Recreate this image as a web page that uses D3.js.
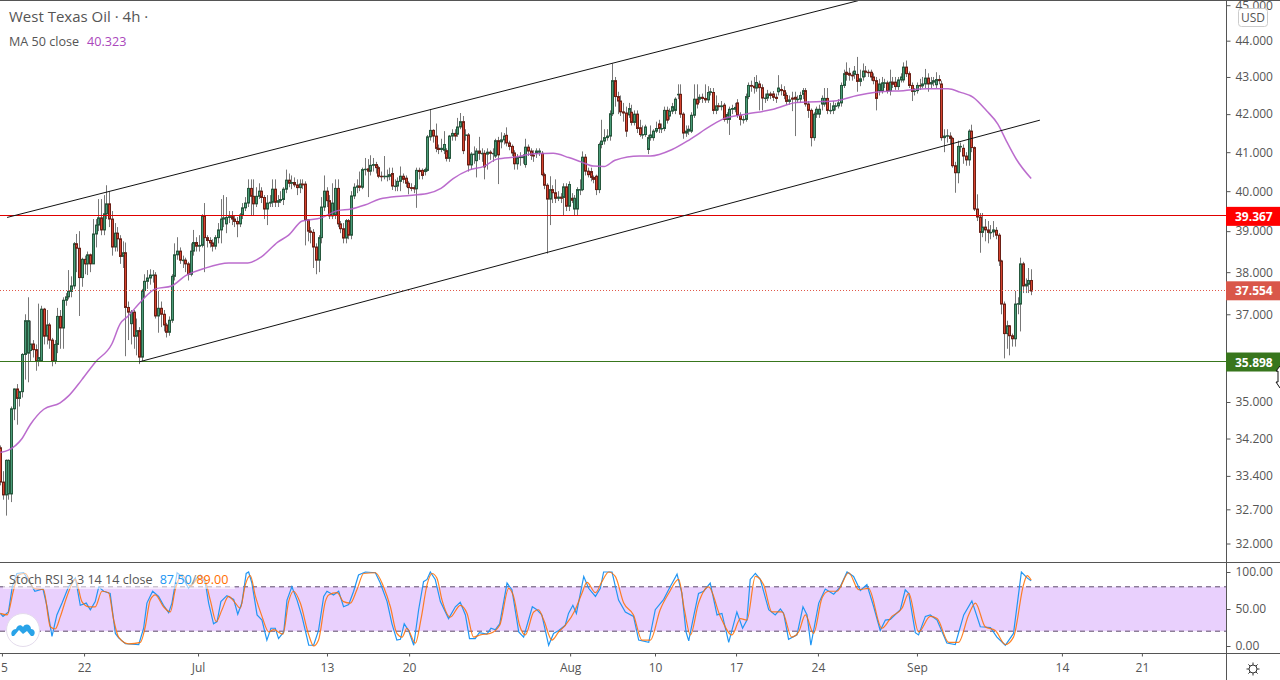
<!DOCTYPE html>
<html>
<head>
<meta charset="utf-8">
<title>West Texas Oil 4h</title>
<script src="https://cdn.jsdelivr.net/npm/d3@7"></script>
<style>
  html, body { margin: 0; background: #fff; overflow: hidden; }
  svg { display: block; font-family: "Open Sans", sans-serif; }
</style>
</head>
<body>
<svg id="chart" width="1280" height="680"></svg>
<script>
// 4h candles, ten bars a line
const opens = [
  34.0,33.27,33.0,33.02,33.02,34.85,35.29,35.08,35.23,36.07,
  36.1,36.16,36.31,36.18,35.93,35.93,37.12,36.49,36.75,36.40,
  35.93,36.30,36.95,36.68,37.33,37.41,37.54,37.67,38.69,38.58,
  37.87,38.31,38.20,38.42,38.2,38.93,39.15,39.33,39.03,39.43,
  39.68,39.30,38.61,38.95,38.81,38.38,38.47,37.16,36.78,37.05,
  36.49,36.62,36.01,37.56,37.78,37.86,37.93,37.93,36.96,37.14,
  37.0,36.75,36.58,36.86,37.9,38.42,38.51,38.29,38.29,38.20,
  37.95,38.51,38.72,38.63,38.65,39.37,38.84,38.77,38.71,38.63,
  38.84,39.03,39.3,39.18,39.34,39.36,39.30,39.24,39.18,39.40,
  39.58,39.70,40.07,39.87,39.68,39.87,40.0,39.84,39.55,39.70,
  39.72,40.05,39.72,39.76,39.79,40.05,40.28,40.2,40.22,40.16,
  40.09,40.18,40.18,39.28,39.0,38.97,38.61,38.29,38.84,39.6,
  40.0,39.76,39.38,39.39,40.07,39.18,39.06,38.83,39.26,38.9,
  39.88,40.1,40.13,40.1,40.55,40.57,40.51,40.66,40.68,40.6,
  40.38,40.37,40.38,40.38,40.45,40.13,40.13,40.25,40.38,40.33,
  40.2,40.09,40.09,40.06,40.53,40.53,40.5,40.53,41.4,41.57,
  41.42,41.1,41.07,41.05,41.04,40.84,41.42,41.49,41.47,41.66,
  41.8,41.45,41.45,40.67,40.95,40.78,41.03,40.97,40.97,40.95,
  41.0,40.97,40.9,41.3,41.27,41.32,41.44,41.24,41.15,40.98,
  40.7,40.86,40.86,40.68,41.13,41.03,40.92,40.97,41.0,40.97,
  40.42,40.15,39.8,40.04,39.96,39.82,39.85,39.84,40.11,39.62,
  39.82,39.55,39.55,40.04,40.04,40.87,40.51,40.5,40.35,40.38,
  40.04,41.2,41.29,41.38,41.42,42.01,42.9,42.47,42.35,42.06,
  42.03,41.98,42.05,41.78,42.0,41.64,41.46,41.46,41.07,41.38,
  41.38,41.55,41.74,41.62,41.62,42.1,41.95,42.08,42.1,42.53,
  42.53,42.0,41.5,41.55,41.55,41.97,42.4,42.4,42.45,42.42,
  42.38,42.58,42.58,42.1,42.22,42.2,42.24,41.86,41.86,42.13,
  42.13,42.3,41.97,41.86,41.86,42.47,42.77,42.75,42.7,42.81,
  42.71,42.43,42.43,42.54,42.54,42.45,42.6,42.66,42.63,42.5,
  42.34,42.43,42.45,42.4,42.4,42.53,42.63,42.27,42.1,41.38,
  42.0,42.0,42.27,42.27,42.42,42.1,42.1,42.22,42.22,42.3,
  42.77,43.13,43.1,43.05,43.07,43.07,42.88,43.0,43.16,43.13,
  43.13,43.0,42.9,42.63,42.63,42.84,42.84,42.63,42.86,42.86,
  42.74,42.92,42.92,43.27,43.09,42.77,42.61,42.63,42.77,42.76,
  42.81,42.97,42.81,42.86,42.79,42.93,42.81,41.38,41.42,41.42,
  41.36,40.65,40.47,41.15,41.1,40.9,40.8,41.55,41.12,39.55,
  39.35,38.97,39.1,39.03,38.97,38.98,39.02,38.9,38.27,37.24,
  36.55,36.73,36.5,36.43,37.24,37.24,38.2,37.67,37.71,37.8
];
const highs = [
  34.05,33.5,33.75,33.75,34.9,35.3,35.4,35.25,36.1,37.0,
  37.4,36.85,36.4,36.3,37.25,37.2,37.15,37.1,36.8,36.45,
  36.4,37.15,37.1,37.4,37.5,38.05,37.9,38.73,38.93,39.0,
  38.35,38.4,38.5,38.45,39.3,39.3,39.8,39.8,39.9,40.15,
  40.0,39.5,39.2,39.1,38.9,38.75,38.72,37.3,37.1,37.1,
  36.9,36.7,37.6,37.95,38.05,38.07,38.05,38.0,37.55,37.3,
  37.1,36.8,36.95,37.95,38.7,38.85,38.6,38.4,38.35,38.25,
  38.7,39.03,38.85,38.9,39.42,39.7,38.9,38.85,38.8,38.9,
  39.2,39.8,39.9,39.85,39.5,39.5,39.4,39.35,39.45,39.7,
  39.85,40.3,40.3,40.3,40.1,40.2,40.1,39.9,39.9,39.9,
  40.3,40.3,39.9,40.0,40.1,40.55,40.45,40.4,40.35,40.3,
  40.3,40.3,40.25,39.3,39.1,39.05,38.7,38.9,39.85,40.4,
  40.1,39.9,40.2,40.3,40.3,39.25,39.2,39.3,39.3,40.0,
  40.2,40.3,40.5,40.6,40.85,40.82,40.92,40.85,40.75,40.65,
  40.5,40.9,40.55,40.6,40.6,40.3,40.35,40.63,40.45,40.4,
  40.25,40.2,40.15,40.6,40.6,40.58,40.6,41.45,42.13,41.6,
  41.75,41.2,41.35,41.55,41.1,41.45,41.6,41.6,41.9,42.03,
  41.95,41.6,41.5,41.0,41.15,41.1,41.4,41.1,41.05,41.1,
  41.05,41.1,41.35,41.4,41.52,41.5,41.65,41.3,41.2,41.05,
  40.95,41.0,40.95,41.35,41.2,41.1,41.05,41.1,41.1,41.03,
  40.47,40.2,40.38,40.15,40.3,40.0,39.95,40.2,40.2,40.25,
  39.95,39.9,40.1,40.3,41.02,40.95,40.6,40.6,40.4,40.42,
  41.25,41.85,41.6,41.6,42.1,43.37,43.0,42.6,42.5,42.3,
  42.2,42.3,42.25,42.1,42.1,41.85,41.7,41.72,41.45,41.7,
  41.6,41.8,41.85,41.75,42.2,42.2,42.15,42.3,42.45,42.8,
  42.8,42.05,41.7,41.7,42.05,42.8,42.8,42.53,42.55,42.8,
  42.75,42.7,42.7,42.5,42.3,42.35,42.3,42.05,42.2,42.25,
  42.3,42.4,42.05,41.95,42.55,42.85,42.9,43.0,43.05,42.9,
  42.8,42.55,42.65,42.6,42.62,42.55,43.05,42.8,42.75,42.58,
  42.5,42.6,42.6,42.5,42.6,42.7,42.7,42.35,42.15,42.05,
  42.2,42.25,42.5,42.7,42.7,42.3,42.35,42.3,42.4,42.85,
  43.2,43.4,43.25,43.15,43.3,43.55,43.2,43.37,43.3,43.2,
  43.2,43.1,43.0,42.95,43.0,42.95,42.9,43.2,43.0,43.0,
  43.0,43.1,43.4,43.45,43.15,42.85,42.7,42.85,42.95,43.0,
  43.22,43.1,43.0,43.0,43.13,43.05,42.9,41.6,41.6,41.52,
  41.4,40.75,41.3,41.25,41.2,41.0,41.6,41.72,41.15,39.92,
  39.45,39.45,39.3,39.25,39.15,39.25,39.1,38.95,38.3,37.3,
  36.85,36.75,36.55,37.55,37.4,38.35,38.25,37.85,38.1,38.07
];
const lows = [
  33.2,32.9,32.57,32.9,32.85,34.6,34.5,34.9,35.1,35.5,
  35.44,35.9,36.0,35.7,35.8,35.9,36.3,36.3,36.2,35.8,
  35.85,36.1,36.2,36.2,37.2,37.35,37.4,37.6,38.0,36.96,
  37.65,37.95,37.93,38.0,38.2,38.6,39.0,38.9,38.9,39.3,
  39.1,38.4,38.5,38.5,38.2,38.1,36.03,36.4,36.3,36.2,
  36.05,35.85,35.9,37.4,37.6,37.7,37.75,36.9,36.57,36.7,
  36.6,36.46,36.5,36.8,37.8,38.3,38.2,38.1,38.0,37.8,
  37.9,38.4,38.5,38.5,38.6,38.0,38.6,38.6,38.5,38.55,
  38.7,38.7,39.1,38.95,39.2,39.15,39.1,38.85,39.1,39.3,
  39.5,39.6,39.4,39.4,39.6,39.8,39.7,39.3,39.15,39.6,
  39.6,39.6,39.6,39.7,39.65,39.95,40.1,40.05,40.1,39.9,
  39.95,40.05,38.65,38.75,38.7,38.1,37.95,38.0,38.7,39.5,
  39.6,39.3,39.3,39.3,39.1,38.95,38.7,38.7,38.8,38.8,
  39.8,39.95,40.0,40.05,40.4,39.85,40.4,40.5,40.45,40.33,
  40.25,40.3,40.25,40.28,40.03,40.0,40.0,40.0,40.2,40.1,
  39.92,40.0,39.95,39.58,40.3,40.3,40.4,40.5,41.3,41.25,
  41.0,40.95,41.0,40.95,40.76,40.75,41.3,41.3,41.4,41.6,
  40.95,41.3,40.5,40.55,40.7,40.35,40.8,40.75,40.3,40.55,
  40.8,40.75,40.85,40.18,41.1,41.2,41.15,41.05,40.9,40.55,
  40.55,40.65,40.7,40.6,40.9,40.8,40.75,40.85,40.9,40.38,
  40.05,38.45,39.15,39.7,39.7,39.75,39.7,39.38,39.5,39.5,
  39.7,39.38,39.38,39.9,40.0,40.4,40.35,40.25,40.2,39.9,
  39.95,41.1,41.2,41.3,41.3,41.95,42.2,42.0,41.95,41.8,
  41.4,41.9,41.7,41.7,41.5,41.4,41.35,41.4,40.95,41.3,
  41.3,41.5,41.5,41.5,41.55,41.75,41.85,42.0,42.0,42.4,
  41.9,41.35,41.4,41.45,41.5,41.9,42.15,42.3,42.3,42.3,
  42.3,42.5,42.0,42.0,42.1,42.1,41.8,41.75,41.45,42.0,
  42.05,41.9,41.7,41.75,41.8,42.4,42.6,42.55,42.6,42.1,
  42.1,42.3,42.35,42.4,42.35,42.3,42.5,42.5,42.4,42.25,
  42.25,42.08,41.42,42.3,42.3,42.4,42.2,41.9,41.15,41.3,
  41.9,41.9,42.1,42.2,42.0,42.0,42.0,42.1,42.15,42.2,
  42.7,42.9,42.9,42.9,42.95,42.6,42.75,42.9,43.0,43.0,
  42.9,42.8,42.1,42.5,42.55,42.7,42.55,42.5,42.7,42.65,
  42.65,42.85,42.85,43.0,42.7,42.35,42.5,42.55,42.65,42.7,
  42.7,42.6,42.7,42.75,42.7,42.8,41.3,41.0,41.25,41.2,
  40.6,39.96,40.2,41.0,40.7,40.65,40.65,41.0,39.5,39.25,
  38.47,38.85,38.75,38.7,38.8,38.85,38.8,38.15,37.0,35.98,
  36.2,36.05,36.25,36.25,37.0,36.6,37.5,37.5,37.5,37.45
];
const closes = [
  33.27,33.0,33.73,33.73,34.85,35.29,35.08,35.23,36.07,36.85,
  36.85,36.31,36.18,35.93,36.0,37.12,36.49,36.75,36.40,35.93,
  36.30,36.95,36.68,37.33,37.41,37.54,37.67,38.69,38.58,37.87,
  38.31,38.20,38.42,38.20,38.93,39.15,39.33,39.03,39.43,39.68,
  39.30,38.61,38.95,38.81,38.38,38.47,37.16,37.05,37.05,36.49,
  36.62,36.01,37.56,37.78,37.86,37.93,37.93,36.96,37.14,37.0,
  36.75,36.58,36.86,37.9,38.42,38.51,38.29,38.29,38.20,37.95,
  38.51,38.72,38.63,38.65,39.37,38.84,38.77,38.71,38.63,38.84,
  39.03,39.30,39.33,39.34,39.36,39.30,39.24,39.18,39.40,39.58,
  39.70,40.07,39.87,39.68,39.87,40.0,39.84,39.55,39.70,39.72,
  40.05,39.72,39.76,39.79,40.05,40.28,40.2,40.22,40.16,40.09,
  40.18,40.16,39.28,39.0,38.97,38.61,38.29,38.84,39.6,40.0,
  39.76,39.38,39.7,40.07,39.18,39.06,38.83,39.26,38.9,39.88,
  40.1,40.13,40.1,40.55,40.56,40.51,40.66,40.68,40.6,40.38,
  40.37,40.38,40.38,40.42,40.13,40.13,40.25,40.38,40.3,40.2,
  40.09,40.07,40.06,40.53,40.5,40.4,40.55,41.4,41.57,41.42,
  41.1,41.07,41.1,41.2,40.84,41.42,41.49,41.42,41.66,41.8,
  41.04,41.45,40.67,40.95,40.95,41.03,40.97,40.97,40.62,41.0,
  40.97,40.97,41.3,40.93,41.32,41.42,41.24,41.15,40.98,40.7,
  40.86,40.88,40.88,41.13,41.03,40.92,40.9,41.03,41.03,40.42,
  40.15,39.8,40.04,39.96,39.82,39.85,39.82,40.11,39.62,40.17,
  39.77,39.82,40.04,40.04,40.87,40.51,40.42,40.35,40.3,40.04,
  41.2,41.29,41.38,41.42,42.01,42.9,42.47,42.35,42.06,42.03,
  41.55,42.15,41.78,42.0,41.62,41.46,41.46,41.66,41.38,41.45,
  41.55,41.62,41.62,41.62,42.1,41.84,42.08,42.2,42.4,42.53,
  42.0,41.5,41.55,41.6,41.97,42.4,42.27,42.45,42.42,42.38,
  42.58,42.6,42.1,42.22,42.2,42.22,41.86,41.99,42.13,42.15,
  42.18,41.97,41.86,41.86,42.47,42.77,42.75,42.71,42.85,42.71,
  42.43,42.43,42.54,42.5,42.45,42.42,42.7,42.63,42.5,42.34,
  42.38,42.4,42.4,42.4,42.5,42.63,42.27,42.1,41.38,42.0,
  42.13,42.13,42.42,42.42,42.1,42.1,42.22,42.22,42.3,42.77,
  43.09,43.07,43.05,43.03,43.16,42.88,42.95,43.16,43.13,43.12,
  43.0,42.9,42.42,42.81,42.84,42.84,42.63,42.86,42.8,42.74,
  42.92,43.0,43.27,43.09,42.77,42.61,42.62,42.77,42.76,42.81,
  42.97,42.81,42.85,42.9,42.93,42.9,41.38,41.42,41.43,41.36,
  40.65,40.47,41.15,41.15,40.9,40.8,41.55,41.12,39.55,39.35,
  38.97,39.1,39.03,38.97,38.97,39.03,38.9,38.27,37.24,36.55,
  36.73,36.5,36.43,37.24,37.25,38.2,37.67,37.71,37.8,37.55
];

// MA 50 readings: bar number and price
const maBars = [0,3,8,11,16,22,25,30,35,41,44,47,52,57,63,68,75,84,91,96,102,106,111,118,124,129,134,139.5,148,157,162,166.5,172,178,182.5,190,196,203.3,209,213.5,218.1,222,226,235,239,247,253.5,261,266,273.5,284.2,292.8,300,307.5,315,322.5,332,340.5,348.5,352.8,357.7,362.6,366.8,369.9,373.6,379];
const maValues = [33.9,33.95,34.2,34.5,34.84,34.98,35.13,35.5,35.9,36.31,36.77,36.96,37.32,37.6,37.67,37.91,38.09,38.22,38.22,38.37,38.73,38.9,39.25,39.33,39.51,39.55,39.65,39.8,39.88,39.94,40.07,40.32,40.53,40.64,40.82,40.88,40.96,40.97,40.86,40.75,40.64,40.63,40.79,40.9,40.9,41.07,41.33,41.68,41.88,41.99,42.13,42.31,42.33,42.36,42.5,42.59,42.63,42.68,42.68,42.59,42.45,42.09,41.73,41.29,40.81,40.32];

// Stoch RSI readings: bar number and value
const kBars = [0,1,3,4.4,6.1,8.6,11,12.7,15.7,17.2,19,20.8,22.7,25.1,27.6,29.4,31.6,33.1,34.9,36.2,38,40.4,42.3,43.5,46,50.9,52.7,53.9,56,58.2,60,61.9,63.1,65,66.8,69.2,71.7,73.5,75.4,76.6,78.4,79.7,81.1,83.3,85.8,87.3,88.8,90.4,91.3,92.5,94.4,96.2,98,99.5,101.1,102.3,104.2,105.4,107.2,109.1,110.9,113.4,115.2,117,118.9,120.1,122.5,124.4,126.2,128.1,129.9,131.7,134.2,137.9,139.7,142.2,144,145.8,147.1,148.5,150.1,152,153.8,155.6,156.9,158.1,159.9,161.8,164.8,167.3,169.1,171,172.5,174.6,176.1,178.9,180.4,182,183.6,186.3,188.1,190.6,192.4,195.6,197.3,199.1,201.6,203.4,205.3,207.7,208.9,210.5,211.8,214.5,216.3,218.8,220.6,221.8,224.9,227.3,229.8,232.8,234.7,238.4,240.8,243.9,245.7,248.8,250.6,252.1,253.1,254.9,256.7,258.6,261,263.5,265.3,267.8,270.8,272.9,274.5,275.7,277.6,279.4,282.5,284.9,286.8,288,289.8,292.9,295.1,296.6,298,300.9,303.3,306.4,308.8,311.3,313.7,316.2,318.6,321.1,323.5,325.4,327.2,330.9,332.7,334,336.4,337.6,340.1,341.9,344.4,348,351.1,354.2,357.2,360.3,364,366.4,369.5,372.5,375.4,377.5,379];
const kValues = [44,40,46,80,98,99,85,74,77,53,13,42,58,80,92,55,58,49,60,80,74,71,17,11,3,2,24,58,74,67,55,45,58,99,94,78,90,96,85,58,30,33,60,68,63,43,58,98,100,85,42,35,8,24,24,10,19,62,80,62,40,1,1,21,67,74,69,74,53,56,74,96,100,99,85,60,30,8,9,30,21,1,49,87,90,100,90,60,37,53,59,42,10,10,18,16,24,22,30,85,76,19,12,53,49,42,1,17,21,28,44,55,44,94,78,67,78,100,100,62,46,40,8,5,49,63,76,97,71,19,7,40,71,74,85,42,44,5,46,24,35,90,98,90,49,42,50,44,9,15,53,42,1,58,77,70,80,100,94,75,83,53,21,35,36,49,76,71,18,15,40,42,35,4,2,42,61,26,25,12,1,17,100,92,88];
const dBars = [0,2.5,4.9,6.7,9.2,12.3,15.9,18.4,20.2,22.1,24.5,27.6,30,32.5,34.9,37.4,39.8,41.7,43.5,47.2,51.5,53.3,55.1,57,60,62.5,64.3,66.8,69.9,72.3,74.8,77.2,79.4,81.5,83.9,86.4,88.2,90.1,91.9,93.8,96.2,98.7,100.5,103.9,106,107.8,110.3,113.4,115.2,117,119.5,120.7,123.8,126.2,128.7,131.1,133.6,137.9,140.9,143.4,145.8,147.7,149.5,152.6,154.7,156.9,158.7,160.5,162.4,165.4,169.1,171.6,174,176.5,180.1,183.6,186.9,188.7,190.9,193,196.1,197.9,199.8,202.8,205.3,207.7,211.4,213.8,215.7,218.8,221.2,223.7,226.1,229.2,232.8,235.9,239,242.6,245.7,249.4,251.5,253.7,256.7,260.4,264.7,269,272.1,274.5,277.6,280.6,283.7,287.4,291,293.5,296,299,302.1,304.5,307.6,311.9,315.6,319.2,324.1,327.8,331.5,334,337.6,341.9,344.4,348.7,352.3,356,358.5,362.1,365.8,369.5,372.5,376.2,377.5,379];
const dValues = [44,42,76,96,98,78,76,26,23,40,67,90,60,53,53,74,72,35,12,3,5,26,62,69,53,46,76,96,81,90,92,62,33,49,67,58,51,83,95,67,40,19,22,16,60,74,58,15,0,8,60,69,72,60,58,76,98,99,80,53,17,12,24,4,37,83,98,92,62,39,55,44,12,15,17,28,78,67,28,15,46,49,35,8,19,28,49,71,86,72,87,100,94,58,42,8,8,49,71,90,49,15,58,80,40,15,37,35,94,83,46,46,12,19,42,17,65,74,74,99,76,78,24,40,51,71,19,40,37,5,5,42,58,26,21,2,12,83,95,89];

// axis labels
const priceTicks = [45,44,43,42,41,40,39,38,37,35,34.2,33.4,32.7,32];
const stochTicks = [100,50,0];
const timeTickBars = [0.6,30.8,72.7,120.1,150.3,209.5,240.7,270.5,300.6,337,390.3,419.7];
const timeTickLabels = ["5","22","Jul","13","20","Aug","10","17","24","Sep","14","21"];

// drawn levels and channel lines
const levels = [
  { price: 39.367, color: "#e00000", box: "#ff0000", label: "39.367", dash: null },
  { price: 37.554, color: "#e0584a", box: "#d9574a", label: "37.554", dash: "1,2" },
  { price: 35.898, color: "#38761d", box: "#38761d", label: "35.898", dash: null }
];
const upperChannel = [[2.5, 39.34], [315.4, 45.13]];
const lowerChannel = [[51, 35.9], [382.2, 41.84]];

const chartWidth = 1226;
const paneBottom = 562;
const timeAxisY = 653;
const textColor = "#555";
const axisColor = "#555";

const svg = d3.select("#chart");

const x = d3.scaleLinear().domain([0, 380]).range([0.3, 1033.9]);
const y = d3.scaleLog().domain([45, 32]).range([5.2, 543.5]);
const yStoch = d3.scaleLinear().domain([100, 0]).range([572, 646]);

const defs = svg.append("defs");
defs.append("clipPath").attr("id", "clipMain").append("rect")
  .attr("width", chartWidth).attr("height", paneBottom);
defs.append("clipPath").attr("id", "clipStoch").append("rect")
  .attr("y", paneBottom).attr("width", chartWidth).attr("height", timeAxisY - paneBottom);

const main = svg.append("g").attr("clip-path", "url(#clipMain)");

const bars = closes.map((c, i) => ({ i, o: opens[i], h: highs[i], l: lows[i], c }));
const px = (d) => Math.round(x(d.i)) + 0.5;

main.selectAll(".wick").data(bars).enter().append("line")
  .attr("class", "wick")
  .attr("x1", px).attr("x2", px)
  .attr("y1", (d) => y(d.h)).attr("y2", (d) => y(d.l))
  .attr("stroke", "#777").attr("stroke-width", 1);

main.selectAll(".body").data(bars).enter().append("rect")
  .attr("class", "body")
  .attr("x", (d) => px(d) - 1)
  .attr("width", 2)
  .attr("y", (d) => y(Math.max(d.o, d.c)))
  .attr("height", (d) => Math.max(0.5, Math.abs(y(d.o) - y(d.c))))
  .attr("fill", (d) => (d.c >= d.o ? "#4a9c78" : "#d6432f"))
  .attr("stroke", (d) => (d.c >= d.o ? "#26573d" : "#6b2016"))
  .attr("stroke-width", 1);

// moving average
const maLine = d3.line().x((d, i) => x(maBars[i])).y((d) => y(d)).curve(d3.curveMonotoneX);
main.append("path").attr("d", maLine(maValues))
  .attr("fill", "none").attr("stroke", "#b45cc8").attr("stroke-width", 1.5).attr("stroke-opacity", 0.9);

// horizontal levels and channel
levels.forEach((l) => {
  main.append("line")
    .attr("x1", 0).attr("x2", chartWidth)
    .attr("y1", Math.round(y(l.price)) - 0.5).attr("y2", Math.round(y(l.price)) - 0.5)
    .attr("stroke", l.color).attr("stroke-width", 1)
    .attr("stroke-dasharray", l.dash);
});
[upperChannel, lowerChannel].forEach((c) => {
  main.append("line")
    .attr("x1", x(c[0][0])).attr("y1", y(c[0][1]))
    .attr("x2", x(c[1][0])).attr("y2", y(c[1][1]))
    .attr("stroke", "#111").attr("stroke-width", 1);
});

// legend
svg.append("text").attr("x", 9).attr("y", 22).attr("font-size", 15).attr("fill", textColor)
  .text("West Texas Oil · 4h ·");
const maLegend = svg.append("text").attr("x", 9).attr("y", 46).attr("font-size", 12.6).attr("fill", textColor);
maLegend.append("tspan").text("MA 50 close");
maLegend.append("tspan").attr("dx", 8).attr("fill", "#ab47bc").text("40.323");

// stoch pane
const stoch = svg.append("g").attr("clip-path", "url(#clipStoch)");
stoch.append("rect")
  .attr("x", 0).attr("width", chartWidth)
  .attr("y", yStoch(80)).attr("height", yStoch(20) - yStoch(80))
  .attr("fill", "#e9d0fd");
[80, 20].forEach((v) => {
  stoch.append("line")
    .attr("x1", 0).attr("x2", chartWidth)
    .attr("y1", yStoch(v)).attr("y2", yStoch(v))
    .attr("stroke", "#5d4a6b").attr("stroke-width", 1).attr("stroke-dasharray", "5,4");
});
const kLine = d3.line().x((d, i) => x(kBars[i])).y((d) => yStoch(d));
const dLine = d3.line().x((d, i) => x(dBars[i])).y((d) => yStoch(d)).curve(d3.curveMonotoneX);
stoch.append("path").attr("d", kLine(kValues)).attr("fill", "none").attr("stroke", "#2196f3").attr("stroke-width", 1.2);
stoch.append("path").attr("d", dLine(dValues)).attr("fill", "none").attr("stroke", "#ff6d00").attr("stroke-width", 1.2).attr("stroke-opacity", 0.85);

svg.append("rect").attr("x", 3).attr("y", 572).attr("width", 232).attr("height", 17)
  .attr("fill", "#fff").attr("fill-opacity", 0.55);
const stochLegend = svg.append("text").attr("x", 9).attr("y", 584).attr("font-size", 12.6).attr("fill", textColor);
stochLegend.append("tspan").text("Stoch RSI 3 3 14 14 close");
stochLegend.append("tspan").attr("dx", 7).attr("fill", "#2196f3").text("87.50");
stochLegend.append("tspan").attr("fill", "#888").text("/");
stochLegend.append("tspan").attr("fill", "#ff6d00").text("89.00");

// logo in the lower left corner
const logo = svg.append("g").attr("transform", "translate(23,630)");
logo.append("circle").attr("r", 16.5).attr("fill", "#fff").attr("stroke", "#e4dcec");
logo.append("path")
  .attr("d", "M-11,6 C-13,2 -10,-1 -7,-1 C-6,-5 -2,-6 0,-3 C2,-7 8,-6 8,-1 C12,-1 13,4 10,6 L8,6 L4,1 L0,4 L-4,0 L-9,6 Z")
  .attr("fill", "#29a3e8");

// price axis
const priceAxis = d3.axisRight(y).tickValues(priceTicks).tickFormat(d3.format(".3f")).tickSize(4).tickPadding(5);
const priceG = svg.append("g").attr("transform", `translate(${chartWidth + 0.5},0)`).call(priceAxis);
const stochAxis = d3.axisRight(yStoch).tickValues(stochTicks).tickFormat(d3.format(".2f")).tickSize(4).tickPadding(5);
const stochG = svg.append("g").attr("transform", `translate(${chartWidth + 0.5},0)`).call(stochAxis);
[priceG, stochG].forEach((g) => {
  g.select(".domain").remove();
  g.selectAll("line").attr("stroke", axisColor);
  g.selectAll("text").attr("font-size", 12).attr("font-family", "\"Open Sans\", sans-serif").attr("fill", textColor);
});

// time axis
const timeAxis = d3.axisBottom(x).tickValues(timeTickBars)
  .tickFormat((d, i) => timeTickLabels[i]).tickSize(3).tickPadding(7);
const timeG = svg.append("g").attr("transform", `translate(0,${timeAxisY + 0.5})`).call(timeAxis);
timeG.select(".domain").remove();
timeG.selectAll("line").attr("stroke", axisColor);
timeG.selectAll("text").attr("font-size", 12).attr("font-family", "\"Open Sans\", sans-serif").attr("fill", textColor);
// the first label would be cut by the left edge
timeG.select(".tick text").attr("x", 2);

// frame lines
const frame = [
  [0, 0.5, 1280, 0.5],
  [0, paneBottom + 0.5, 1280, paneBottom + 0.5],
  [0, timeAxisY + 0.5, 1280, timeAxisY + 0.5],
  [chartWidth + 0.5, 0, chartWidth + 0.5, 680]
];
svg.selectAll(".frame").data(frame).enter().append("line")
  .attr("class", "frame")
  .attr("x1", (d) => d[0]).attr("y1", (d) => d[1])
  .attr("x2", (d) => d[2]).attr("y2", (d) => d[3])
  .attr("stroke", axisColor).attr("stroke-width", 1);

// price labels
levels.forEach((l) => {
  const g = svg.append("g").attr("transform", `translate(${chartWidth},${y(l.price)})`);
  g.append("rect").attr("y", -9.5).attr("width", 54).attr("height", 19).attr("fill", l.box);
  g.append("text").attr("x", 9).attr("y", 4.5)
    .attr("font-size", 12).attr("font-weight", 700).attr("fill", "#fff").text(l.label);
});

// currency badge
svg.append("rect").attr("x", 1238.5).attr("y", 8.5).attr("width", 29).attr("height", 18).attr("rx", 3)
  .attr("fill", "#fff").attr("stroke", "#ccc");
svg.append("text").attr("x", 1253).attr("y", 22).attr("text-anchor", "middle")
  .attr("font-size", 12).attr("fill", textColor).text("USD");

// resize cursor at the right edge
svg.append("path")
  .attr("d", "M1280,366 L1276,371 L1278,371 L1278,382 L1276,382 L1280,388")
  .attr("fill", "#fff").attr("stroke", "#111");

// settings gear
const gear = svg.append("g").attr("transform", "translate(1253,669)").attr("stroke", "#333").attr("fill", "none");
gear.append("circle").attr("r", 4);
d3.range(8).forEach((k) => {
  const a = (k * Math.PI) / 4;
  gear.append("line")
    .attr("x1", 4 * Math.cos(a)).attr("y1", 4 * Math.sin(a))
    .attr("x2", 6.5 * Math.cos(a)).attr("y2", 6.5 * Math.sin(a));
});
</script>
</body>
</html>
